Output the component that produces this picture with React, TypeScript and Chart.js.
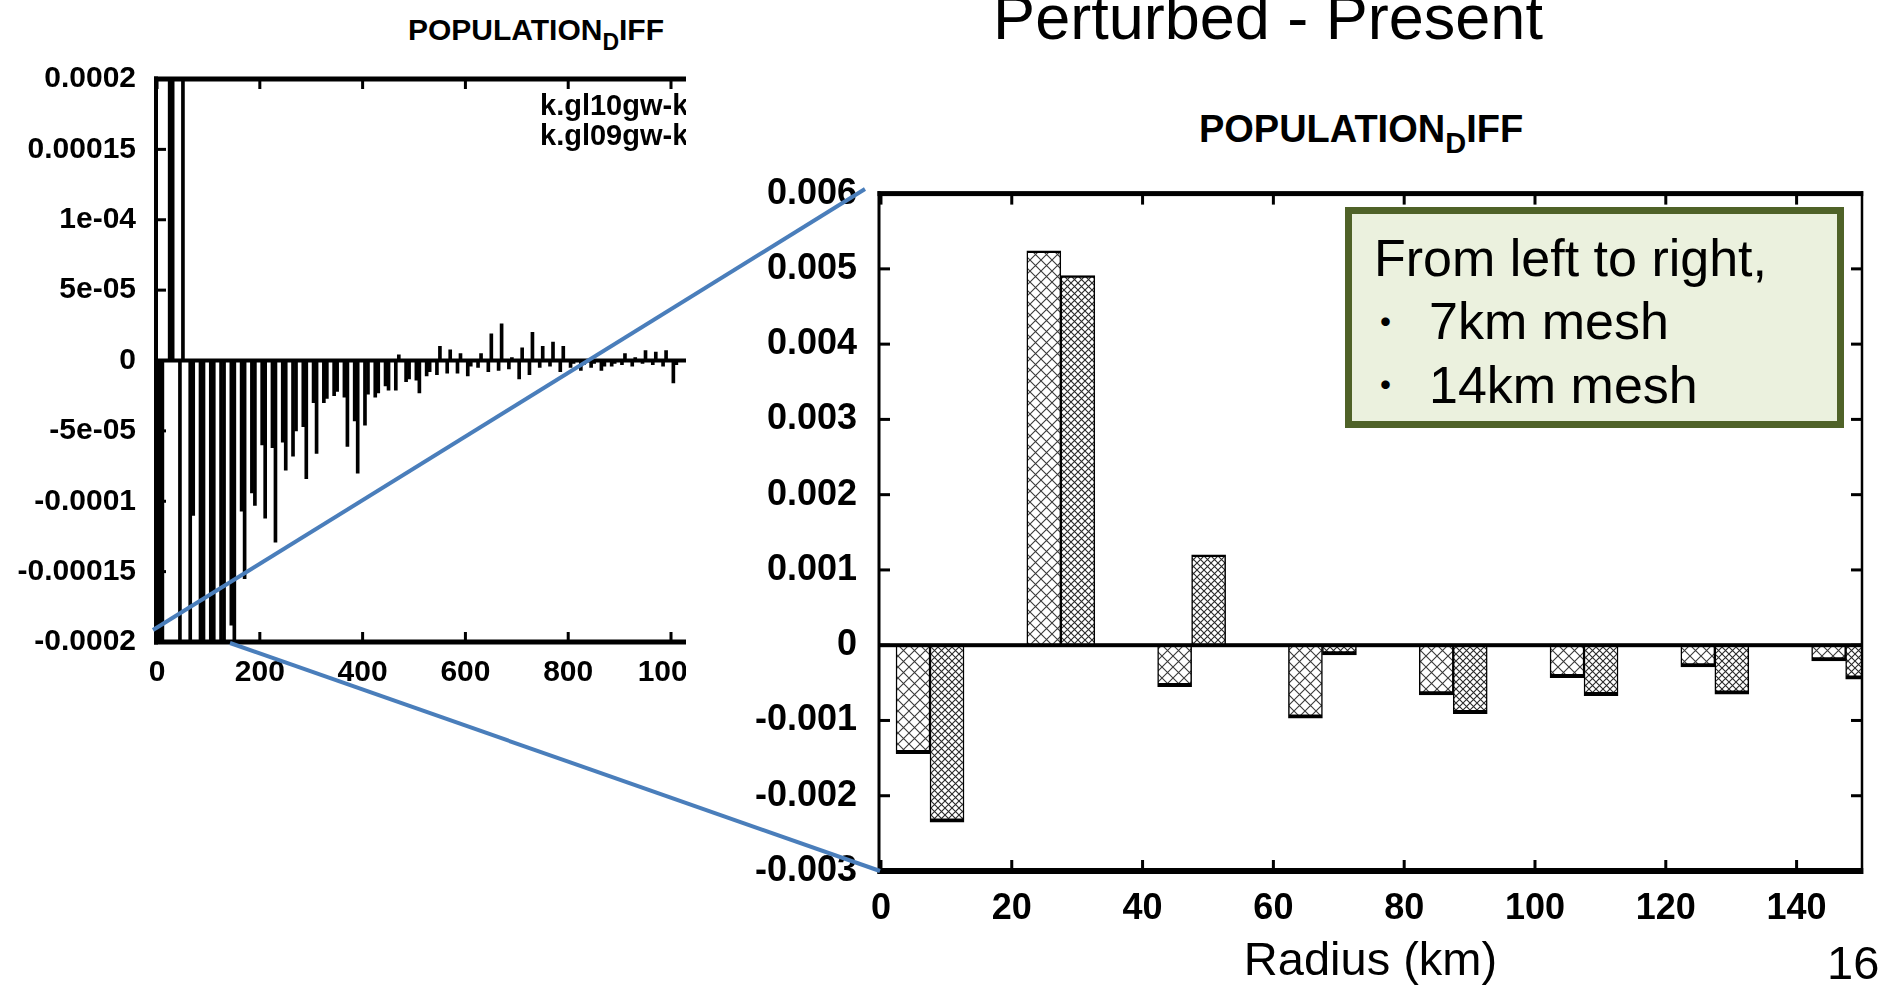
import React, { useEffect, useRef } from 'react';
import { Chart, registerables } from 'chart.js';

Chart.register(...registerables);

const FONT = '"Liberation Sans", Arial, Helvetica, sans-serif';

// ---------- Right chart (zoom, 0-150 km) ----------
const rightRadius = [7.5, 27.5, 47.5, 67.5, 87.5, 107.5, 127.5, 147.5];
const rightMesh7 = [-0.00144, 0.00524, -0.00055, -0.00097, -0.00066, -0.00043, -0.00029, -0.00021];
const rightMesh14 = [-0.00235, 0.00491, 0.0012, -0.00013, -0.00091, -0.00067, -0.00065, -0.00045];
const rightXTicks = [0, 20, 40, 60, 80, 100, 120, 140];
const rightXLabels = ['0', '20', '40', '60', '80', '100', '120', '140'];
const rightYTicks = [-0.003, -0.002, -0.001, 0, 0.001, 0.002, 0.003, 0.004, 0.005, 0.006];
const rightYLabels = ['-0.003', '-0.002', '-0.001', '0', '0.001', '0.002', '0.003', '0.004', '0.005', '0.006'];

// ---------- Left chart (full range) ----------
const leftRadius = [
  7.5, 27.5, 47.5, 67.5, 87.5, 107.5, 127.5, 147.5, 167.5, 187.5,
  207.5, 227.5, 247.5, 267.5, 287.5, 307.5, 327.5, 347.5, 367.5, 387.5,
  407.5, 427.5, 447.5, 467.5, 487.5, 507.5, 527.5, 547.5, 567.5, 587.5,
  607.5, 627.5, 647.5, 667.5, 687.5, 707.5, 727.5, 747.5, 767.5, 787.5,
  807.5, 827.5, 847.5, 867.5, 887.5, 907.5, 927.5, 947.5, 967.5, 987.5,
  1007.5,
];
const leftSeriesA = [
  -0.00144, 0.00524, -0.00055, -0.00097, -0.00066, -0.00043, -0.00029, -0.000188, -0.000107, -0.000094,
  -0.00006, -0.000062, -0.000058, -0.000068, -0.000047, -0.00003, -0.00003, -0.000025, -0.000026, -0.000043,
  -0.000046, -0.000026, -0.000018, -0.000021, -0.000015, -0.000014, -0.000011, -0.00001, -0.000009, -0.000009,
  -0.000011, -0.000005, -0.000008, -0.000007, -0.000006, -0.000013, -0.00001, -0.000005, -0.000004, -0.000008,
  -0.000005, -0.000007, -0.000005, -0.000007, -0.000004, -0.000003, -0.000004, -0.000002, -0.000003, -0.000004,
  -0.000016,
];
const leftSeriesB = [
  -0.00235, 0.00491, 0.0012, -0.00011, -0.00091, -0.00067, -0.00065, -0.00045, -0.000155, -0.000103,
  -0.000112, -0.000129, -0.000078, -0.00005, -0.000084, -0.000066, -0.000027, -0.000022, -0.000061, -0.00008,
  -0.000024, -0.000023, -0.000021, 0.000004, -0.000013, -0.000023, -0.000008, 0.00001, 0.0000075, 0.000005,
  -0.000004, 0.000005, 0.000019, 0.000026, 0.000002, 0.000009, 0.00002, 0.00001, 0.000013, 0.00001,
  -0.000002, -0.000003, -0.000002, -0.000004, -0.000002, 0.000005, 0.000002, 0.000007, 0.000006, 0.000007,
  -0.000003,
];
const leftXTicks = [0, 200, 400, 600, 800, 1000];
const leftXLabels = ['0', '200', '400', '600', '800', '1000'];
const leftYTicks = [-0.0002, -0.00015, -0.0001, -0.00005, 0, 0.00005, 0.0001, 0.00015, 0.0002];
const leftYLabels = ['-0.0002', '-0.00015', '-0.0001', '-5e-05', '0', '5e-05', '1e-04', '0.00015', '0.0002'];

const framePlugin = {
  id: 'frame',
  afterDatasetsDraw(chart: any, _args: any, opts: any) {
    const { ctx, chartArea: a, scales } = chart;
    const xs = scales.x;
    const ys = scales.y;
    ctx.save();
    ctx.fillStyle = '#000';
    const y0 = ys.getPixelForValue(0);
    ctx.fillRect(a.left, y0 - opts.zeroWidth / 2, a.right - a.left, opts.zeroWidth);
    const tl = opts.tickLen;
    const tw = opts.tickWidth;
    xs.ticks.forEach((t: any) => {
      const px = xs.getPixelForValue(t.value);
      ctx.fillRect(px - tw / 2, a.bottom - tl, tw, tl);
      ctx.fillRect(px - tw / 2, a.top, tw, tl);
    });
    ys.ticks.forEach((t: any) => {
      const py = ys.getPixelForValue(t.value);
      ctx.fillRect(a.left, py - tw / 2, tl, tw);
      ctx.fillRect(a.right - tl, py - tw / 2, tl, tw);
    });
    const b = opts.border;
    const w = a.right - a.left;
    const h = a.bottom - a.top;
    ctx.fillRect(a.left - b.left / 2, a.top - b.top / 2, w + b.left / 2 + b.right / 2, b.top);
    ctx.fillRect(a.left - b.left / 2, a.bottom - b.bottom / 2, w + b.left / 2 + b.right / 2, b.bottom);
    ctx.fillRect(a.left - b.left / 2, a.top - b.top / 2, b.left, h + b.top / 2 + b.bottom / 2);
    ctx.fillRect(a.right - b.right / 2, a.top - b.top / 2, b.right, h + b.top / 2 + b.bottom / 2);
    ctx.restore();
  },
};

function makeHatch(ctx: CanvasRenderingContext2D, size: number, color: string, lw: number) {
  const c = document.createElement('canvas');
  c.width = size;
  c.height = size;
  const g = c.getContext('2d') as CanvasRenderingContext2D;
  g.fillStyle = '#fff';
  g.fillRect(0, 0, size, size);
  g.strokeStyle = color;
  g.lineWidth = lw;
  g.beginPath();
  g.moveTo(0, 0);
  g.lineTo(size, size);
  g.moveTo(size, 0);
  g.lineTo(0, size);
  g.stroke();
  return ctx.createPattern(c, 'repeat');
}

export default function App() {
  const leftRef = useRef<HTMLCanvasElement>(null);
  const rightRef = useRef<HTMLCanvasElement>(null);

  useEffect(() => {
    const lc = leftRef.current!;
    const rc = rightRef.current!;
    const tickFont = (size: number) => ({ family: FONT, size, weight: 'bold' as const });

    const left = new Chart(lc, {
      type: 'bar',
      data: {
        datasets: [
          {
            label: 'k.gl10gw-k',
            data: leftRadius.map((x, i) => ({ x, y: leftSeriesA[i] })),
            backgroundColor: '#000',
            borderWidth: 0,
            barThickness: 3,
            clip: 0,
          },
          {
            label: 'k.gl09gw-k',
            data: leftRadius.map((x, i) => ({ x, y: leftSeriesB[i] })),
            backgroundColor: '#000',
            borderWidth: 0,
            barThickness: 3,
            clip: 0,
          },
        ],
      } as any,
      options: {
        responsive: false,
        animation: false,
        layout: { padding: { top: 79, right: 17.6, bottom: 0, left: 0 } },
        plugins: {
          legend: { display: false },
          tooltip: { enabled: false },
          frame: { zeroWidth: 4, tickLen: 10, tickWidth: 3, border: { top: 5, right: 4, bottom: 5, left: 4 } },
        } as any,
        scales: {
          x: {
            type: 'linear',
            min: -2,
            max: 1100,
            offset: false,
            grid: { display: false, drawTicks: false },
            border: { display: false },
            afterBuildTicks: (s: any) => { s.ticks = leftXTicks.map((v) => ({ value: v })); },
            afterFit: (s: any) => { s.height = 58; },
            ticks: {
              autoSkip: false, maxRotation: 0, minRotation: 0, padding: 13, color: '#000',
              font: tickFont(30),
              callback: (_v: any, i: number) => leftXLabels[i],
            },
          },
          y: {
            type: 'linear',
            min: -0.0002,
            max: 0.0002,
            grid: { display: false, drawTicks: false },
            border: { display: false },
            afterBuildTicks: (s: any) => { s.ticks = leftYTicks.map((v) => ({ value: v })); },
            afterFit: (s: any) => { s.width = 156; },
            ticks: {
              autoSkip: false, padding: 20, color: '#000',
              font: tickFont(30),
              callback: (_v: any, i: number) => leftYLabels[i],
            },
          },
        } as any,
      },
      plugins: [framePlugin],
    });

    const rctx = rc.getContext('2d') as CanvasRenderingContext2D;
    const hatch1 = makeHatch(rctx, 11, '#3a3a3a', 1.1);
    const hatch2 = makeHatch(rctx, 7, '#2a2a2a', 1.1);
    const bw = (c: any) => {
      const v = c.raw && typeof c.raw.y === 'number' ? c.raw.y : 0;
      return v < 0
        ? { top: 1.5, right: 1.5, bottom: 4, left: 1.5 }
        : { top: 2.5, right: 1.5, bottom: 1.5, left: 1.5 };
    };

    const right = new Chart(rc, {
      type: 'bar',
      data: {
        datasets: [
          {
            label: '7km mesh',
            data: rightRadius.map((x, i) => ({ x, y: rightMesh7[i] })),
            backgroundColor: hatch1,
            borderColor: '#000',
            borderWidth: bw,
            borderSkipped: false,
            barThickness: 34,
            clip: 0,
          },
          {
            label: '14km mesh',
            data: rightRadius.map((x, i) => ({ x, y: rightMesh14[i] })),
            backgroundColor: hatch2,
            borderColor: '#000',
            borderWidth: bw,
            borderSkipped: false,
            barThickness: 34,
            clip: 0,
          },
        ],
      } as any,
      options: {
        responsive: false,
        animation: false,
        layout: { padding: { top: 40, right: 28, bottom: 0, left: 0 } },
        plugins: {
          legend: { display: false },
          tooltip: { enabled: false },
          frame: { zeroWidth: 4, tickLen: 11, tickWidth: 3, border: { top: 5, right: 2.5, bottom: 6, left: 3 } },
        } as any,
        scales: {
          x: {
            type: 'linear',
            min: -0.3,
            max: 150,
            offset: false,
            grid: { display: false, drawTicks: false },
            border: { display: false },
            afterBuildTicks: (s: any) => { s.ticks = rightXTicks.map((v) => ({ value: v })); },
            afterFit: (s: any) => { s.height = 118; },
            ticks: {
              autoSkip: false, maxRotation: 0, minRotation: 0, padding: 16, color: '#000',
              font: tickFont(36),
              callback: (_v: any, i: number) => rightXLabels[i],
            },
            title: {
              display: true,
              text: 'Radius (km)',
              color: '#000',
              font: { family: FONT, size: 47, lineHeight: 1 },
              padding: { top: 0, bottom: 3 },
            },
          },
          y: {
            type: 'linear',
            min: -0.003,
            max: 0.006,
            grid: { display: false, drawTicks: false },
            border: { display: false },
            afterBuildTicks: (s: any) => { s.ticks = rightYTicks.map((v) => ({ value: v })); },
            afterFit: (s: any) => { s.width = 179; },
            ticks: {
              autoSkip: false, padding: 22, color: '#000',
              font: tickFont(36),
              callback: (_v: any, i: number) => rightYLabels[i],
            },
          },
        } as any,
      },
      plugins: [framePlugin],
    });

    return () => {
      left.destroy();
      right.destroy();
    };
  }, []);

  const abs = (s: React.CSSProperties): React.CSSProperties => ({ position: 'absolute', whiteSpace: 'nowrap', lineHeight: 1, ...s });
  const bulletStyle = (top: number): React.CSSProperties =>
    abs({ left: 13.5, top, fontSize: 40, fontFamily: '"Noto Sans CJK JP", sans-serif' });

  return (
    <div style={{ position: 'absolute', left: 0, top: 0, width: 1896, height: 989, background: '#fff', overflow: 'hidden', fontFamily: FONT, color: '#000' }}>
      <div style={abs({ left: 1268, top: -14, transform: 'translateX(-50%)', fontSize: 63 })}>Perturbed - Present</div>

      <div style={abs({ left: 536, top: 14.6, transform: 'translateX(-50%)', fontSize: 30, fontWeight: 'bold' })}>
        POPULATION<span style={{ fontSize: 23, verticalAlign: -10 }}>D</span>IFF
      </div>

      <div style={{ position: 'absolute', left: 0, top: 0, width: 686, height: 700, overflow: 'hidden' }}>
        <canvas ref={leftRef} width={740} height={700} style={{ position: 'absolute', left: 0, top: 0, width: 740, height: 700 }} />
        <div style={abs({ left: 540, top: 90.5, fontSize: 29, fontWeight: 'bold' })}>k.gl10gw-k</div>
        <div style={abs({ left: 540, top: 120.5, fontSize: 29, fontWeight: 'bold' })}>k.gl09gw-k</div>
      </div>

      <div style={abs({ left: 1361, top: 109.5, transform: 'translateX(-50%)', fontSize: 38, fontWeight: 'bold' })}>
        POPULATION<span style={{ fontSize: 29, verticalAlign: -11 }}>D</span>IFF
      </div>

      <canvas ref={rightRef} width={1190} height={839} style={{ position: 'absolute', left: 700, top: 150, width: 1190, height: 839 }} />

      <div style={{ position: 'absolute', left: 1345, top: 207, width: 499, height: 221, boxSizing: 'border-box', border: '7px solid #4F6228', background: '#EBF1DE' }}>
        <div style={abs({ left: 22, top: 18, fontSize: 52 })}>From left to right,</div>
        <div style={bulletStyle(86.3)}>・</div>
        <div style={abs({ left: 77, top: 81.3, fontSize: 52 })}>7km mesh</div>
        <div style={bulletStyle(149.3)}>・</div>
        <div style={abs({ left: 77, top: 145.3, fontSize: 52 })}>14km mesh</div>
      </div>

      <div style={abs({ left: 1827, top: 939, fontSize: 47 })}>16</div>

      <svg width={1896} height={989} style={{ position: 'absolute', left: 0, top: 0, pointerEvents: 'none' }}>
        <line x1={153} y1={630} x2={865} y2={189} stroke="#4A7EBB" strokeWidth={4} />
        <line x1={230} y1={643} x2={880} y2={871} stroke="#4A7EBB" strokeWidth={4} />
      </svg>
    </div>
  );
}
